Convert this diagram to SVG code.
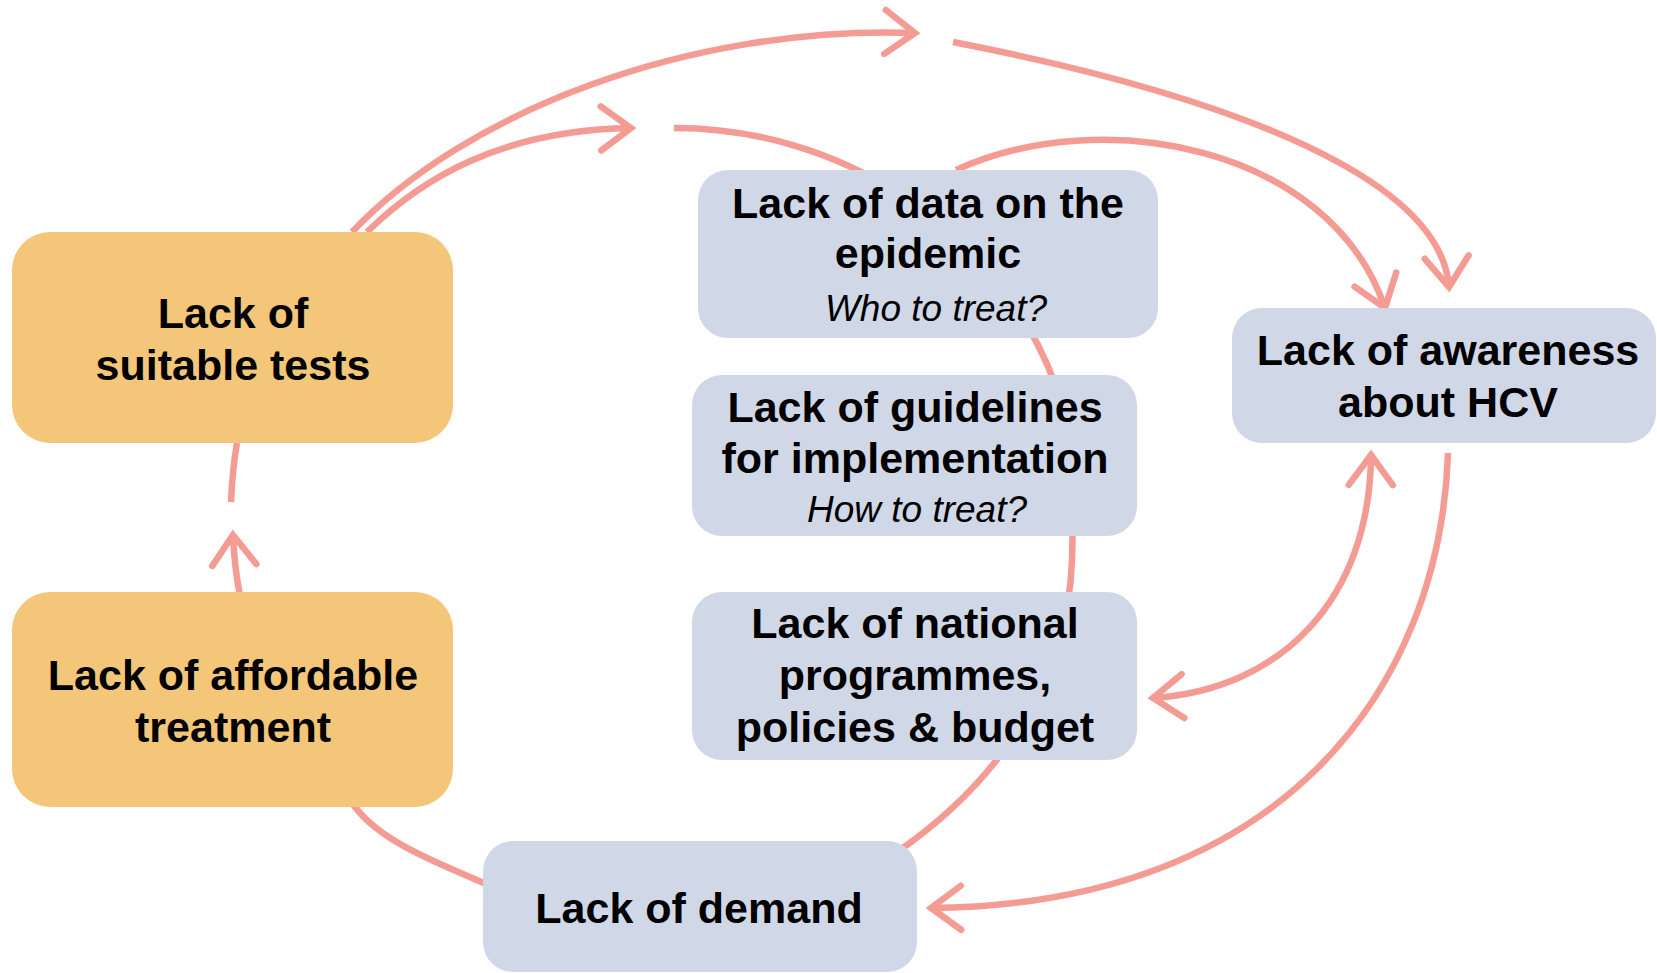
<svg xmlns="http://www.w3.org/2000/svg" width="1657" height="973" viewBox="0 0 1657 973">
<style>
.c{fill:none;stroke:#F49C94;stroke-width:6.5;stroke-linecap:butt}
.o{fill:#F3C67A}
.b{fill:#D0D8E7}
.t{font-family:"Liberation Sans",Arial,sans-serif;font-weight:bold;font-size:43px;fill:#000;text-anchor:middle}
.i{font-family:"Liberation Sans",Arial,sans-serif;font-style:italic;font-size:37px;fill:#000;text-anchor:middle}
</style>
<defs>
<marker id="ah" markerUnits="userSpaceOnUse" markerWidth="80" markerHeight="80" viewBox="-40 -40 80 80" refX="0" refY="0" orient="auto-start-reverse" overflow="visible">
<path d="M-30,-22 L0,0 L-30,22" fill="none" stroke="#F49C94" stroke-width="6.5" stroke-linecap="round" stroke-linejoin="miter"/>
</marker>
</defs>
<rect width="1657" height="973" fill="#fff"/>
<g id="connectors">
<path class="c" d="M674,128 C840,128 985,225 1045,360 C1065,400 1075,480 1072,560 C1068,680 1000,780 900,850 C820,905 560,920 484,883 C430,860 380,840 355,807 C280,720 238,650 233,535" marker-end="url(#ah)"/>
<path class="c" d="M231,502 C232,480 234,460 237,443"/>
<path class="c" d="M352,232 C465,112 690,25 915,33" marker-end="url(#ah)"/>
<path class="c" d="M367,232 C420,180 500,130 631,128" marker-end="url(#ah)"/>
<path class="c" d="M953,42 C1200,90 1440,170 1449,287" marker-end="url(#ah)"/>
<path class="c" d="M956,170 C1100,104 1330,145 1385,308" marker-end="url(#ah)"/>
<path class="c" d="M1371,455 C1370,600 1280,690 1153,698" marker-start="url(#ah)" marker-end="url(#ah)"/>
<path class="c" d="M1448,453 C1440,690 1280,905 931,908" marker-end="url(#ah)"/>
</g>
<g id="n-tests">
<rect class="o" x="12" y="232" width="441" height="211" rx="38"/>
<text class="t" x="233" y="328">Lack of</text>
<text class="t" x="233" y="380">suitable tests</text>
</g>
<g id="n-treatment">
<rect class="o" x="12" y="592" width="441" height="215" rx="38"/>
<text class="t" x="233" y="690">Lack of affordable</text>
<text class="t" x="233" y="742">treatment</text>
</g>
<g id="n-data">
<rect class="b" x="698" y="170" width="460" height="168" rx="30"/>
<text class="t" x="928" y="218">Lack of data on the</text>
<text class="t" x="928" y="268">epidemic</text>
<text class="i" x="936" y="321">Who to treat?</text>
</g>
<g id="n-guidelines">
<rect class="b" x="692" y="375" width="445" height="161" rx="30"/>
<text class="t" x="915" y="422">Lack of guidelines</text>
<text class="t" x="915" y="473">for implementation</text>
<text class="i" x="917" y="522">How to treat?</text>
</g>
<g id="n-national">
<rect class="b" x="692" y="592" width="445" height="168" rx="30"/>
<text class="t" x="915" y="638">Lack of national</text>
<text class="t" x="915" y="690">programmes,</text>
<text class="t" x="915" y="742">policies &amp; budget</text>
</g>
<g id="n-demand">
<rect class="b" x="483" y="841" width="434" height="131" rx="30"/>
<text class="t" x="699" y="923">Lack of demand</text>
</g>
<g id="n-awareness">
<rect class="b" x="1232" y="308" width="424" height="135" rx="30"/>
<text class="t" x="1448" y="365">Lack of awareness</text>
<text class="t" x="1448" y="417">about HCV</text>
</g>
</svg>
